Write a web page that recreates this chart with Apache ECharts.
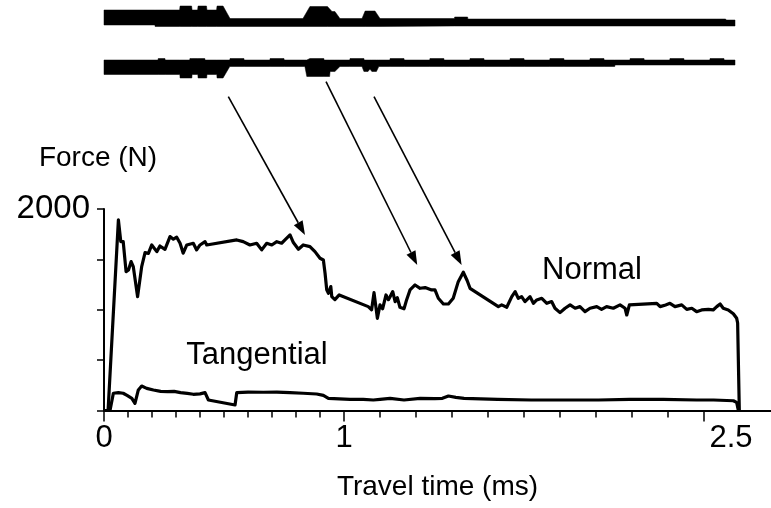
<!DOCTYPE html>
<html>
<head>
<meta charset="utf-8">
<script src="https://cdn.jsdelivr.net/npm/echarts@6/dist/echarts.min.js"></script>
<style>
html, body { margin: 0; padding: 0; background: #fff; }
#main { width: 771px; height: 508px; }
</style>
</head>
<body>
<div id="main"></div>
<script>
// travel time (ms), force (N)
var normalForce = [
    [0,0],[0.017,0],[0.060,1892],[0.070,1676],[0.080,1676],[0.092,1378],[0.102,1395],[0.113,1478],[0.122,1428],
    [0.140,1130],[0.157,1428],[0.171,1567],[0.185,1560],[0.199,1643],[0.220,1577],[0.233,1633],[0.254,1600],
    [0.275,1726],[0.289,1700],[0.303,1720],[0.317,1660],[0.330,1561],[0.345,1643],[0.372,1660],[0.386,1594],
    [0.400,1643],[0.421,1676],[0.428,1643],[0.553,1693],[0.580,1676],[0.608,1643],[0.636,1660],[0.657,1594],
    [0.678,1660],[0.699,1643],[0.720,1676],[0.740,1660],[0.754,1693],[0.775,1743],[0.789,1667],[0.810,1601],
    [0.830,1643],[0.858,1627],[0.879,1577],[0.900,1511],[0.914,1494],[0.921,1362],[0.928,1197],[0.935,1164],
    [0.945,1230],[0.949,1130],[0.962,1100],[0.980,1147],[1.101,1031],[1.115,1000],[1.125,1170],[1.139,915],
    [1.150,1048],[1.161,1010],[1.175,1147],[1.185,1100],[1.192,1130],[1.203,1180],[1.213,1080],[1.222,1120],
    [1.233,1025],[1.250,1010],[1.261,1100],[1.275,1197],[1.296,1246],[1.317,1213],[1.338,1220],[1.365,1197],
    [1.379,1197],[1.393,1114],[1.414,1057],[1.435,1057],[1.455,1114],[1.476,1279],[1.497,1372],[1.513,1290],
    [1.525,1213],[1.546,1180],[1.643,1031],[1.657,1048],[1.678,1025],[1.699,1130],[1.713,1180],[1.726,1114],
    [1.740,1130],[1.754,1081],[1.775,1130],[1.789,1064],[1.803,1097],[1.824,1114],[1.845,1064],[1.865,1081],
    [1.879,1015],[1.900,971],[1.921,1015],[1.942,1048],[1.963,1015],[1.983,1031],[2.004,981],[2.025,1015],
    [2.053,1031],[2.073,1004],[2.094,1031],[2.122,1015],[2.150,1048],[2.171,1015],[2.178,948],[2.189,1048],
    [2.303,1064],[2.317,1031],[2.340,1048],[2.358,1064],[2.379,1031],[2.407,1048],[2.428,1004],[2.449,1015],
    [2.469,981],[2.490,998],[2.518,1004],[2.538,998],[2.553,1031],[2.567,1057],[2.580,1015],[2.601,998],
    [2.622,960],[2.636,915],[2.640,868],[2.647,0]
];
var tangentialForce = [
    [0,0],[0.025,0],[0.039,171],[0.060,177],[0.080,171],[0.096,150],[0.116,121],[0.129,71],[0.143,204],
    [0.157,243],[0.178,220],[0.206,204],[0.236,190],[0.265,187],[0.292,190],[0.319,177],[0.347,170],
    [0.372,161],[0.400,165],[0.421,177],[0.435,104],[0.546,55],[0.553,177],[0.600,183],[0.664,181],
    [0.720,183],[0.775,177],[0.830,171],[0.886,164],[0.914,150],[0.935,121],[0.958,118],[1.025,111],
    [1.080,111],[1.122,104],[1.150,111],[1.192,121],[1.250,104],[1.317,121],[1.378,118],[1.410,121],
    [1.435,144],[1.466,131],[1.500,121],[1.640,111],[1.780,104],[1.920,104],[2.060,104],[2.190,111],
    [2.330,111],[2.470,104],[2.540,104],[2.622,97],[2.636,80],[2.643,0]
];
// signal traces above the plot: [time, lower edge, upper edge] (arbitrary units)
var upperTrace = [
    [0,5.5,7.0],[0.212,5.5,7.0],[0.213,5.35,7.0],[0.315,5.35,7.0],[0.317,5.35,7.4],[0.365,5.35,7.4],
    [0.367,5.35,7.0],[0.390,5.35,7.0],[0.392,5.35,7.4],[0.427,5.35,7.4],[0.429,5.35,7.0],[0.469,5.35,7.0],
    [0.471,5.35,7.4],[0.496,5.35,7.4],[0.525,5.35,6.15],[0.829,5.35,6.15],[0.858,5.35,7.35],[0.931,5.35,7.35],
    [0.950,5.35,6.85],[0.962,5.35,6.85],[0.983,5.35,6.15],[1.075,5.35,6.15],[1.088,5.35,6.9],[1.129,5.35,6.9],
    [1.150,5.35,6.15],[1.460,5.4,6.15],[1.461,5.4,6.3],[1.515,5.4,6.3],[1.516,5.4,6.1],[2.550,5.4,6.1],
    [2.590,5.4,6.1],[2.592,5.4,6.0],[2.629,5.4,6.0]
];
var lowerTrace = [
    [0,0.55,2.0],[0.225,0.55,2.0],[0.226,0.55,2.15],[0.254,0.55,2.15],[0.255,0.55,2.0],[0.316,0.55,2.0],
    [0.317,0.2,2.0],[0.357,0.2,2.0],[0.358,0.2,2.15],[0.366,0.2,2.15],[0.367,0.55,2.15],[0.391,0.55,2.15],
    [0.392,0.2,2.15],[0.420,0.2,2.15],[0.421,0.2,2.0],[0.428,0.2,2.0],[0.429,0.55,2.0],[0.470,0.55,2.0],
    [0.471,0.2,2.0],[0.496,0.2,2.0],[0.524,1.35,2.0],[0.525,1.35,2.15],[0.583,1.35,2.15],[0.584,1.35,2.0],
    [0.691,1.35,2.0],[0.692,1.35,2.15],[0.750,1.35,2.15],[0.751,1.35,2.0],[0.837,1.35,2.0],[0.845,0.35,2.0],
    [0.858,0.35,2.15],[0.916,0.35,2.15],[0.917,0.35,2.0],[0.940,0.35,2.0],[0.942,0.85,2.0],[0.962,0.85,2.0],
    [0.983,1.35,2.0],[1.024,1.35,2.0],[1.025,1.35,2.15],[1.075,1.35,2.15],[1.083,0.85,2.15],[1.084,0.85,2.0],
    [1.100,0.85,2.0],[1.108,1.1,2.0],[1.116,0.85,2.0],[1.135,0.85,2.0],[1.145,1.35,2.0],[1.191,1.35,2.0],
    [1.192,1.35,2.15],[1.250,1.35,2.15],[1.251,1.35,2.0],[1.357,1.35,2.0],[1.358,1.35,2.15],[1.416,1.35,2.15],
    [1.417,1.35,2.0],[1.524,1.35,2.0],[1.525,1.35,2.15],[1.583,1.35,2.15],[1.584,1.35,2.0],[1.691,1.35,2.0],
    [1.692,1.35,2.15],[1.750,1.35,2.15],[1.751,1.35,2.0],[1.857,1.35,2.0],[1.858,1.35,2.15],[1.916,1.35,2.15],
    [1.917,1.35,2.0],[2.024,1.35,2.0],[2.025,1.35,2.15],[2.083,1.35,2.15],[2.084,1.35,2.0],[2.128,1.35,2.0],
    [2.129,1.5,2.0],[2.191,1.5,2.0],[2.192,1.5,2.15],[2.250,1.5,2.15],[2.251,1.5,2.0],[2.357,1.5,2.0],
    [2.358,1.5,2.15],[2.416,1.5,2.15],[2.417,1.5,2.0],[2.524,1.5,2.0],[2.525,1.5,2.15],[2.583,1.5,2.15],
    [2.584,1.5,2.0],[2.629,1.5,2.0]
];
var minorTicks = [0,0.1,0.2,0.3,0.4,0.5,0.6,0.7,0.8,0.9,1.0,1.15,1.3,1.45,1.6,1.75,1.9,2.05,2.2,2.35,2.5];
var majorTicks = [0, 1, 2.5];
var forceTicks = [0, 500, 1000, 1500, 2000];
var forceLabels = [2000];
// arrows: from a trace feature (above the plot) to the force feature, [time, force]
var arrowFrom = [[0.518, 3115], [0.925, 3264], [1.125, 3115]];
var arrowTo = [[0.8375, 1742], [1.305, 1444], [1.490, 1444]];
var curveNames = [['Normal', 2.033, 1392], ['Tangential', 0.6375, 551]];

var FONT = '"Liberation Sans", Arial, sans-serif';
var xMax = 2.779;

// filled band between the lower and upper edge of a trace, drawn as one polygon
function traceSeries(rows) {
    return {
        type: 'custom', coordinateSystem: 'cartesian2d', xAxisIndex: 2, yAxisIndex: 1,
        data: rows, encode: { x: 0, y: [1, 2] }, clip: false, silent: true,
        renderItem: function (params, api) {
            if (params.dataIndex !== 0) return;
            var pts = [];
            rows.forEach(function (r) { pts.push(api.coord([r[0], r[1]])); });
            for (var i = rows.length - 1; i >= 0; i--) {
                pts.push(api.coord([rows[i][0], rows[i][2]]));
            }
            return {
                type: 'polygon',
                shape: { points: pts },
                style: { fill: '#000', stroke: '#000', lineWidth: 0.5 }
            };
        }
    };
}

var chart = echarts.init(document.getElementById('main'));
var option = {
    animation: false,
    backgroundColor: '#fff',
    grid: [
        { left: 104, right: 0, top: 209, height: 201.5 },
        { left: 104, right: 0, top: 0, height: 80 }
    ],
    xAxis: [{
        type: 'value', gridIndex: 0, min: 0, max: xMax, position: 'bottom',
        axisLine: { lineStyle: { color: '#000', width: 2 } },
        axisTick: { show: true, length: 7, lineStyle: { color: '#000', width: 1.5 }, customValues: minorTicks },
        axisLabel: { show: false },
        splitLine: { show: false }
    }, {
        type: 'value', gridIndex: 0, min: 0, max: xMax, position: 'bottom', offset: 0,
        axisLine: { show: false },
        axisTick: { show: true, length: 11, lineStyle: { color: '#000', width: 1.5 }, customValues: majorTicks },
        axisLabel: {
            customValues: majorTicks, color: '#000', fontSize: 31, fontFamily: FONT, margin: 12,
            formatter: function (v) { return v === 2.5 ? '{s|2.5}' : String(v); },
            rich: { s: { fontSize: 31, fontFamily: FONT, color: '#000', padding: [0, 0, 0, 54] } }
        },
        splitLine: { show: false },
        name: 'Travel time (ms)', nameLocation: 'middle', nameGap: 77,
        nameTextStyle: { color: '#000', fontSize: 28, fontFamily: FONT, verticalAlign: 'middle' }
    }, {
        type: 'value', gridIndex: 1, min: 0, max: xMax, show: false
    }],
    yAxis: [{
        type: 'value', gridIndex: 0, min: 0, max: 2000,
        axisLine: { show: true, lineStyle: { color: '#000', width: 2 } },
        axisTick: { show: true, length: 7, lineStyle: { color: '#000', width: 1.5 }, customValues: forceTicks },
        axisLabel: {
            customValues: forceLabels, color: '#000', fontSize: 33, fontFamily: FONT, margin: 14,
            padding: [0, 0, 11, 0],
            formatter: function (v) { return String(v); }
        },
        splitLine: { show: false },
        name: 'Force (N)', nameLocation: 'end', nameGap: 51,
        nameTextStyle: { color: '#000', fontSize: 28, fontFamily: FONT, align: 'center', verticalAlign: 'middle', padding: [0, 12, 0, 0] }
    }, {
        type: 'value', gridIndex: 1, min: 0, max: 8, show: false
    }],
    series: [{
        name: 'Normal', type: 'line', xAxisIndex: 0, yAxisIndex: 0,
        data: normalForce, showSymbol: false,
        lineStyle: { color: '#000', width: 3.2, join: 'round' }
    }, {
        name: 'Tangential', type: 'line', xAxisIndex: 0, yAxisIndex: 0,
        data: tangentialForce, showSymbol: false,
        lineStyle: { color: '#000', width: 3.2, join: 'round' }
    }, traceSeries(upperTrace), traceSeries(lowerTrace)]
};
chart.setOption(option);

// annotations: arrows and curve names
var graphics = [];
arrowFrom.forEach(function (from, i) {
    var p0 = chart.convertToPixel({ xAxisIndex: 0, yAxisIndex: 0 }, from);
    var p1 = chart.convertToPixel({ xAxisIndex: 0, yAxisIndex: 0 }, arrowTo[i]);
    var dx = p1[0] - p0[0], dy = p1[1] - p0[1];
    var len = Math.sqrt(dx * dx + dy * dy);
    var ux = dx / len, uy = dy / len;
    var headLen = 14, headW = 5;
    var bx = p1[0] - ux * headLen, by = p1[1] - uy * headLen;
    graphics.push({
        type: 'line', silent: true,
        shape: { x1: p0[0], y1: p0[1], x2: bx, y2: by },
        style: { stroke: '#000', lineWidth: 1.6 }
    });
    graphics.push({
        type: 'polygon', silent: true,
        shape: { points: [[p1[0], p1[1]], [bx - uy * headW, by + ux * headW], [bx + uy * headW, by - ux * headW]] },
        style: { fill: '#000' }
    });
});
curveNames.forEach(function (c) {
    var p = chart.convertToPixel({ xAxisIndex: 0, yAxisIndex: 0 }, [c[1], c[2]]);
    graphics.push({
        type: 'text', silent: true, x: p[0], y: p[1],
        style: { text: c[0], fill: '#000', font: '31px ' + FONT, align: 'center', verticalAlign: 'middle' }
    });
});
chart.setOption({ graphic: graphics });
</script>
</body>
</html>
